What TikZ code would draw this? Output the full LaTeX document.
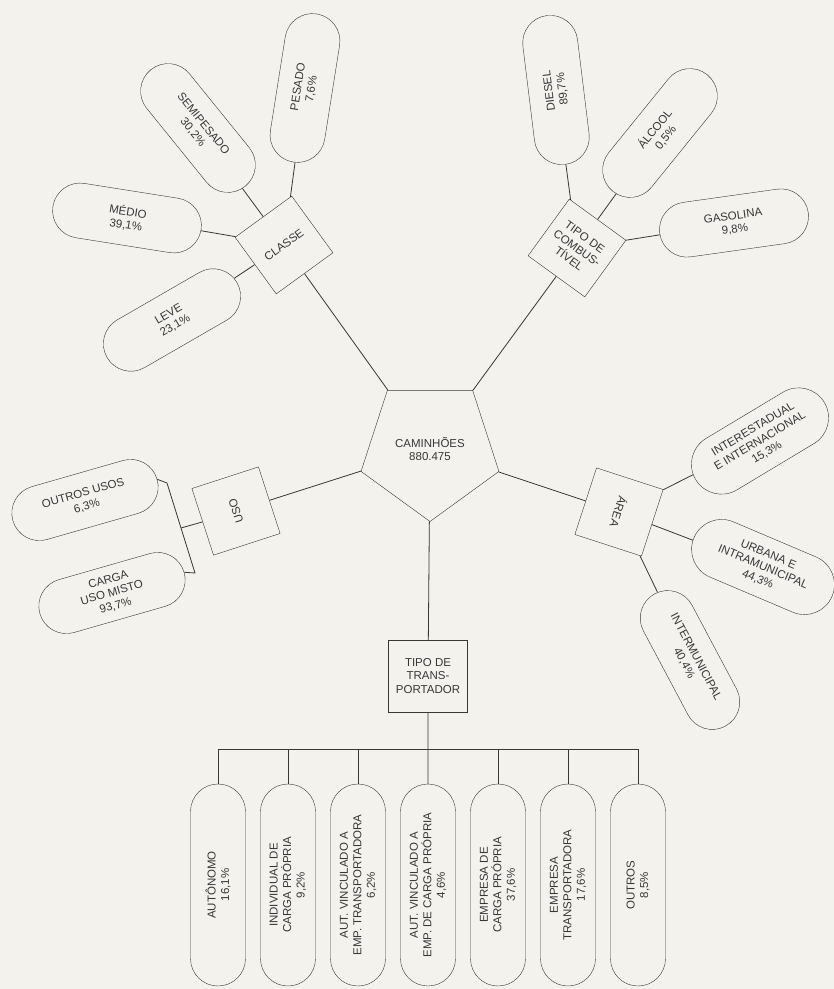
\documentclass[tikz,border=0pt]{standalone}
\usepackage{fontspec}
\setmainfont{Liberation Sans}
\usepackage{tikz}
\usetikzlibrary{shapes.geometric,shapes.misc}

\definecolor{paper}{RGB}{243,242,236}
\definecolor{ink}{RGB}{55,55,55}

\begin{document}
\begin{tikzpicture}[x=1pt,y=-1pt]
        \tikzstyle{hub node}=[draw=ink,regular polygon,regular polygon sides=5,shape border rotate=180,minimum size=145pt,inner sep=0pt,align=center,text=ink,font=\fontsize{11.5}{13.5}\selectfont]
        \tikzstyle{box node}=[draw=ink,rectangle,minimum size=70pt,inner sep=1pt,align=center,text=ink,font=\fontsize{11.5}{13.5}\selectfont]
        \tikzstyle{leaf node}=[draw=ink,rounded rectangle,minimum width=150pt,minimum height=55pt,inner xsep=0pt,inner ysep=1pt,align=center,text=ink,font=\fontsize{11.5}{13.5}\selectfont]
        \tikzstyle{long leaf}=[leaf node,minimum width=202pt,rotate=90]
        \tikzstyle{link}=[draw=ink,line width=0.8pt]

        \useasboundingbox (0,0) rectangle (834,989);
        \fill[paper] (0,0) rectangle (834,989);

        % centre and the five groups
        \node[hub node] (cam) at (430,449) {CAMINHÕES\\880.475};
        \node[box node,rotate=36] (classe) at (284,245) {CLASSE};
        \node[box node,rotate=-36] (comb) at (577,248) {TIPO DE\\COMBUS-\\TÍVEL};
        \node[box node,rotate=-108] (area) at (619,512) {ÁREA};
        \node[box node,rotate=108] (uso) at (236,511) {USO};
        \node[box node,minimum width=79pt,minimum height=72pt] (transp) at (428,676) {TIPO DE\\TRANS-\\PORTADOR};

        % classe
        \node[leaf node,rotate=81] (pesado) at (305,88) {PESADO\\7,6\%};
        \node[leaf node,rotate=-51] (semi) at (198,128) {SEMIPESADO\\30,2\%};
        \node[leaf node,rotate=-9] (medio) at (127,218) {MÉDIO\\39,1\%};
        \node[leaf node,rotate=30] (leve) at (172,320) {LEVE\\23,1\%};

        % combustivel
        \node[leaf node,rotate=97] (diesel) at (556,90) {DIESEL\\89,7\%};
        \node[leaf node,rotate=51] (alcool) at (660,133) {ÁLCOOL\\0,5\%};
        \node[leaf node,rotate=8] (gasolina) at (734,223) {GASOLINA\\9,8\%};

        % area
        \node[leaf node,rotate=31,minimum height=60pt] (inter) at (760,441) {INTERESTADUAL\\E INTERNACIONAL\\15,3\%};
        \node[leaf node,rotate=-23,minimum height=60pt] (urbana) at (763,567) {URBANA E\\INTRAMUNICIPAL\\44,3\%};
        \node[leaf node,rotate=-62] (intermun) at (690,660) {INTERMUNICIPAL\\40,4\%};

        % uso
        \node[leaf node,rotate=16] (outros) at (85,500) {OUTROS USOS\\6,3\%};
        \node[leaf node,rotate=16] (carga) at (112,593) {CARGA\\USO MISTO\\93,7\%};
        \coordinate (usoT) at (167,483);
        \coordinate (usoM) at (181,528);
        \coordinate (usoB) at (195,573);

        % transportador
        \node[long leaf] (b1) at (218,885) {AUTÔNOMO\\16,1\%};
        \node[long leaf] (b2) at (288,885) {INDIVIDUAL DE\\CARGA PRÓPRIA\\9,2\%};
        \node[long leaf] (b3) at (358,885) {AUT. VINCULADO A\\EMP. TRANSPORTADORA\\6,2\%};
        \node[long leaf] (b4) at (428,885) {AUT. VINCULADO A\\EMP. DE CARGA PRÓPRIA\\4,6\%};
        \node[long leaf] (b5) at (498,885) {EMPRESA DE\\CARGA PRÓPRIA\\37,6\%};
        \node[long leaf] (b6) at (568,885) {EMPRESA\\TRANSPORTADORA\\17,6\%};
        \node[long leaf] (b7) at (638,885) {OUTROS\\8,5\%};
        \coordinate (bus) at (428,749);

        \draw[link] (cam) -- (classe);
        \draw[link] (cam) -- (comb);
        \draw[link] (cam) -- (area);
        \draw[link] (cam) -- (uso);
        \draw[link] (cam) -- (transp);

        \draw[link] (classe) -- (pesado);
        \draw[link] (classe) -- (semi);
        \draw[link] (classe) -- (medio);
        \draw[link] (classe) -- (leve);
        \draw[link] (comb) -- (diesel);
        \draw[link] (comb) -- (alcool);
        \draw[link] (comb) -- (gasolina);
        \draw[link] (area) -- (inter);
        \draw[link] (area) -- (urbana);
        \draw[link] (area) -- (intermun);

        \draw[link] (uso.north) -- (usoM);
        \draw[link] (outros.east) -- (usoT) -- (usoB) -- (carga.east);

        \draw[link] (transp) -- (b4);
        \draw[link] (b1.east) |- (bus) -| (b7.east);
        \draw[link] (b2.east) -- (b2.east |- bus);
        \draw[link] (b3.east) -- (b3.east |- bus);
        \draw[link] (b5.east) -- (b5.east |- bus);
        \draw[link] (b6.east) -- (b6.east |- bus);
    \end{tikzpicture}
\end{document}
